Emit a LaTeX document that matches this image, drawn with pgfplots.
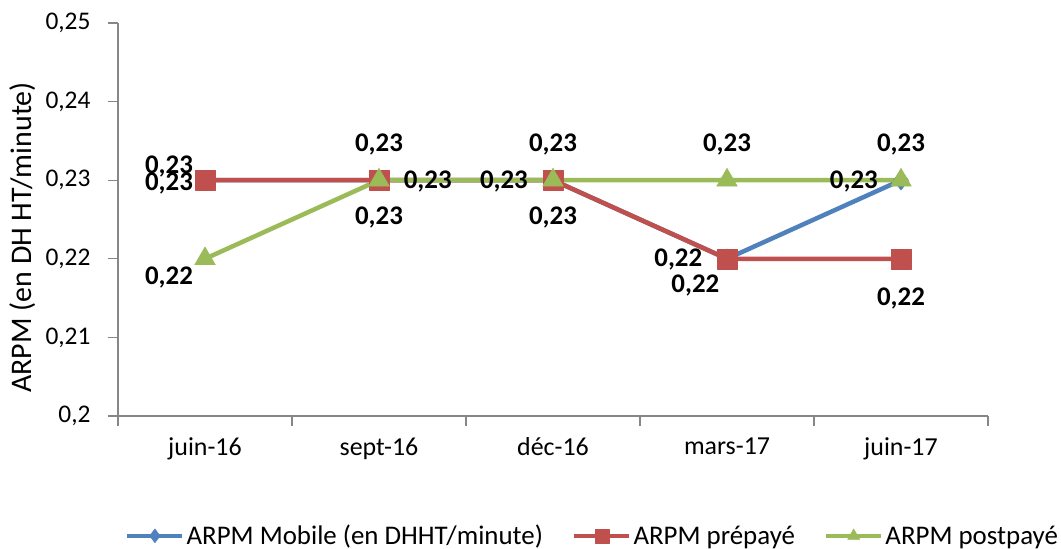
\documentclass[border=0pt]{standalone}
\usepackage{pgfplots}
\pgfplotsset{compat=1.18}
\usepackage{fontspec}
\setmainfont{Carlito}
\definecolor{cblue}{HTML}{4F81BD}
\definecolor{cred}{HTML}{C0504D}
\definecolor{cgreen}{HTML}{9BBB59}
\definecolor{caxis}{HTML}{868686}
\begin{document}
\begin{tikzpicture}[x=1bp,y=1bp]
\path[use as bounding box] (0,0) rectangle (1061,549);
\begin{axis}[
  at={(118bp,133bp)}, anchor=south west,
  scale only axis, width=870bp, height=393bp,
  xmin=-0.5, xmax=4.5, ymin=0.2, ymax=0.25,
  axis x line*=bottom, axis y line*=left,
  axis line style={caxis, line width=1.2bp},
  tick style={caxis, line width=1.2bp},
  tick align=outside, major tick length=10bp,
  clip=false,
  /pgf/number format/assume math mode=true,
  /pgf/number format/use comma,
  ytick={0.2,0.21,0.22,0.23,0.24,0.25},
  yticklabel style={font=\fontsize{25.5}{28}\selectfont, xshift=-14bp},
  xtick={-0.5,0.5,1.5,2.5,3.5,4.5},
  xticklabels={,,,,,},
  extra x ticks={0,1,2,3,4},
  extra x tick labels={juin-16,sept-16,déc-16,mars-17,juin-17},
  extra x tick style={tick style={draw=none}, xticklabel style={font=\fontsize{26}{28}\selectfont, yshift=-8bp}},
  legend style={at={(axis description cs:0.008,-0.305)}, anchor=west, draw=none, fill=none,
    font=\fontsize{27}{30}\selectfont, legend columns=3, inner sep=0pt,
    /tikz/every even column/.append style={column sep=27bp}},
  legend cell align=left,
  legend image code/.code={\draw[#1, mark size=7bp, mark repeat=2, mark phase=2] plot coordinates {(0bp,0bp) (27.5bp,0bp) (55bp,0bp)};},
]
\addplot[cblue, line width=4.5bp, line join=round, mark=diamond*, mark size=10bp, mark options={solid, fill=cblue, line width=0.4bp}]
  coordinates {(0,0.23) (1,0.23) (2,0.23) (3,0.22) (4,0.23)};
\addlegendentry{ARPM Mobile (en DHHT/minute)}
\addplot[cred, line width=4.5bp, line join=round, mark=square*, mark size=10bp, mark options={solid, fill=cred, line width=0.4bp}]
  coordinates {(0,0.23) (1,0.23) (2,0.23) (3,0.22) (4,0.22)};
\addlegendentry{ARPM prépayé}
\addplot[cgreen, line width=4.5bp, line join=round, mark=triangle*, mark size=12bp, mark options={solid, fill=cgreen, line width=0.4bp}]
  coordinates {(0,0.22) (1,0.23) (2,0.23) (3,0.23) (4,0.23)};
\addlegendentry{ARPM postpayé}
\begin{scope}[every node/.style={font=\bfseries\fontsize{27}{30}\selectfont, inner sep=0pt}]
\node at (axis cs:-0.207,0.23168) {0,23};
\node at (axis cs:-0.207,0.22952) {0,23};
\node at (axis cs:-0.207,0.21756) {0,22};
\node at (axis cs:1,0.23448) {0,23};
\node at (axis cs:1,0.22519) {0,23};
\node at (axis cs:1.280,0.22977) {0,23};
\node at (axis cs:1.718,0.22977) {0,23};
\node at (axis cs:2,0.23448) {0,23};
\node at (axis cs:2,0.22519) {0,23};
\node at (axis cs:3,0.23448) {0,23};
\node at (axis cs:2.720,0.21985) {0,22};
\node at (axis cs:2.818,0.21654) {0,22};
\node at (axis cs:4,0.23448) {0,23};
\node at (axis cs:3.729,0.22977) {0,23};
\node at (axis cs:4,0.21501) {0,22};
\end{scope}
\end{axis}
\node[rotate=90, font=\fontsize{30}{32}\selectfont] at (23,311.5) {ARPM (en DH HT/minute)};
\end{tikzpicture}
\end{document}
